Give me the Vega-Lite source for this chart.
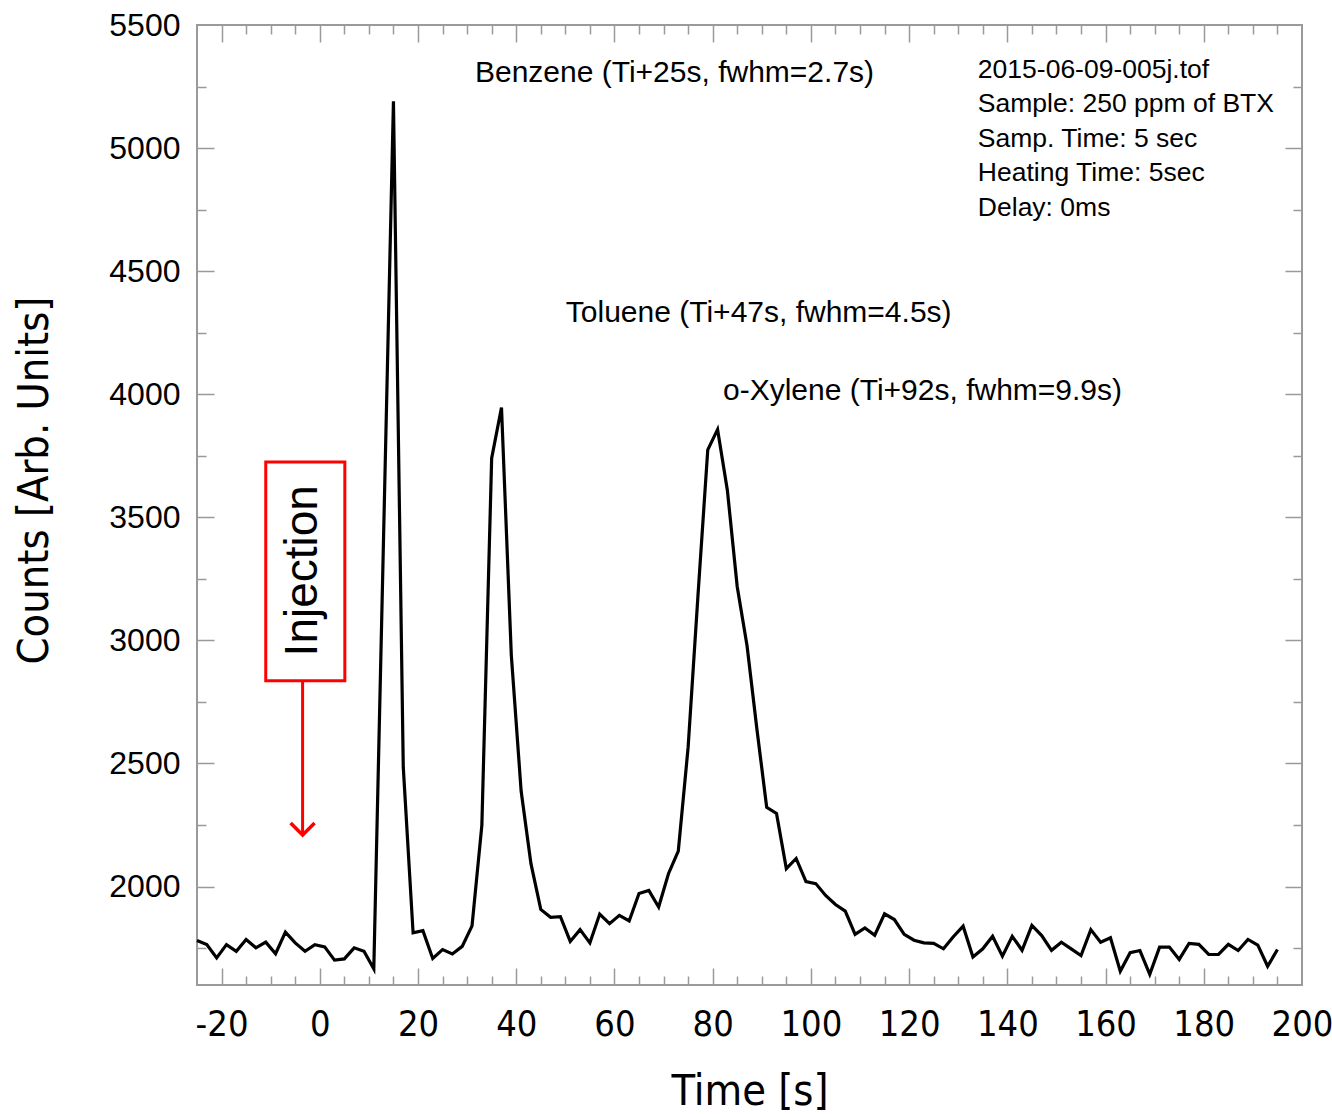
{
  "$schema": "https://vega.github.io/schema/vega-lite/v6.json",
  "width": 1105,
  "height": 960,
  "autosize": {"type": "none"},
  "padding": {"left": 197, "top": 25, "right": 30, "bottom": 129},
  "background": "white",
  "config": {
    "view": {"stroke": "#9a9a9a", "strokeWidth": 2},
    "axis": {"domain": false, "grid": false, "tickColor": "#9a9a9a", "tickWidth": 1.5, "labelColor": "black", "titleColor": "black", "titleFontWeight": "normal", "labelOverlap": false, "labelFlush": false, "labelBound": false}
  },
  "datasets": {
    "trace": [
      {"t": -25, "v": 1781}, {"t": -23, "v": 1764}, {"t": -21, "v": 1710}, {"t": -19, "v": 1764}, {"t": -17, "v": 1737},
      {"t": -15, "v": 1785}, {"t": -13, "v": 1751}, {"t": -11, "v": 1774}, {"t": -9, "v": 1727}, {"t": -7, "v": 1815},
      {"t": -5, "v": 1771}, {"t": -3, "v": 1737}, {"t": -1, "v": 1764}, {"t": 1, "v": 1755}, {"t": 3, "v": 1701},
      {"t": 5, "v": 1706}, {"t": 7, "v": 1751}, {"t": 9, "v": 1737}, {"t": 11, "v": 1666}, {"t": 13, "v": 3430},
      {"t": 15, "v": 5190}, {"t": 17, "v": 2485}, {"t": 19, "v": 1812}, {"t": 21, "v": 1821}, {"t": 23, "v": 1708},
      {"t": 25, "v": 1744}, {"t": 27, "v": 1726}, {"t": 29, "v": 1757}, {"t": 31, "v": 1840}, {"t": 33, "v": 2248},
      {"t": 35, "v": 3740}, {"t": 37, "v": 3946}, {"t": 39, "v": 2940}, {"t": 41, "v": 2388}, {"t": 43, "v": 2093},
      {"t": 45, "v": 1907}, {"t": 47, "v": 1875}, {"t": 49, "v": 1878}, {"t": 51, "v": 1777}, {"t": 53, "v": 1825},
      {"t": 55, "v": 1771}, {"t": 57, "v": 1888}, {"t": 59, "v": 1849}, {"t": 61, "v": 1883}, {"t": 63, "v": 1860},
      {"t": 65, "v": 1972}, {"t": 67, "v": 1984}, {"t": 69, "v": 1917}, {"t": 71, "v": 2052}, {"t": 73, "v": 2144},
      {"t": 75, "v": 2565}, {"t": 77, "v": 3180}, {"t": 79, "v": 3774}, {"t": 81, "v": 3857}, {"t": 83, "v": 3609},
      {"t": 85, "v": 3218}, {"t": 87, "v": 2978}, {"t": 89, "v": 2641}, {"t": 91, "v": 2322}, {"t": 93, "v": 2297},
      {"t": 95, "v": 2073}, {"t": 97, "v": 2114}, {"t": 99, "v": 2020}, {"t": 101, "v": 2012}, {"t": 103, "v": 1964},
      {"t": 105, "v": 1927}, {"t": 107, "v": 1900}, {"t": 109, "v": 1806}, {"t": 111, "v": 1832}, {"t": 113, "v": 1802},
      {"t": 115, "v": 1889}, {"t": 117, "v": 1866}, {"t": 119, "v": 1806}, {"t": 121, "v": 1782}, {"t": 123, "v": 1771},
      {"t": 125, "v": 1769}, {"t": 127, "v": 1747}, {"t": 129, "v": 1796}, {"t": 131, "v": 1839}, {"t": 133, "v": 1714},
      {"t": 135, "v": 1747}, {"t": 137, "v": 1798}, {"t": 139, "v": 1717}, {"t": 141, "v": 1798}, {"t": 143, "v": 1741},
      {"t": 145, "v": 1842}, {"t": 147, "v": 1801}, {"t": 149, "v": 1741}, {"t": 151, "v": 1774}, {"t": 153, "v": 1747},
      {"t": 155, "v": 1720}, {"t": 157, "v": 1825}, {"t": 159, "v": 1774}, {"t": 161, "v": 1792}, {"t": 163, "v": 1656},
      {"t": 165, "v": 1731}, {"t": 167, "v": 1740}, {"t": 169, "v": 1643}, {"t": 171, "v": 1754}, {"t": 173, "v": 1754},
      {"t": 175, "v": 1704}, {"t": 177, "v": 1769}, {"t": 179, "v": 1765}, {"t": 181, "v": 1724}, {"t": 183, "v": 1724},
      {"t": 185, "v": 1765}, {"t": 187, "v": 1740}, {"t": 189, "v": 1785}, {"t": 191, "v": 1762}, {"t": 193, "v": 1676},
      {"t": 195, "v": 1744}
    ],
    "peaks": [
      {"x": 31.6, "y": 5305, "label": "Benzene (Ti+25s, fwhm=2.7s)"},
      {"x": 50.1, "y": 4330, "label": "Toluene (Ti+47s, fwhm=4.5s)"},
      {"x": 82.1, "y": 4014, "label": "o-Xylene (Ti+92s, fwhm=9.9s)"}
    ],
    "info": [
      {"x": 134, "y": 5317, "label": "2015-06-09-005j.tof"},
      {"x": 134, "y": 5179, "label": "Sample: 250 ppm of BTX"},
      {"x": 134, "y": 5037, "label": "Samp. Time: 5 sec"},
      {"x": 134, "y": 4899, "label": "Heating Time: 5sec"},
      {"x": 134, "y": 4757, "label": "Delay: 0ms"}
    ],
    "injbox": [{"x1": -11, "x2": 5.1, "y1": 3725, "y2": 2836, "xc": -3.5, "yc": 3283, "label": "Injection"}],
    "arrow": [{"x": -3.5, "y1": 2836, "y2": 2213}],
    "tip": [{"x": -3.5, "y": 2209}]
  },
  "layer": [
    {
      "data": {"name": "trace"},
      "mark": {"type": "line", "opacity": 0},
      "encoding": {
        "x": {"field": "t", "type": "quantitative", "scale": {"domain": [-25, 200], "nice": false, "zero": false},
          "axis": {"orient": "bottom", "values": [-20, 0, 20, 40, 60, 80, 100, 120, 140, 160, 180, 200], "labelExpr": "'' + datum.value", "ticks": false, "labelFont": "DejaVu Sans Condensed, Liberation Sans, sans-serif", "labelFontSize": 36, "labelPadding": 22, "title": "Time [s]", "titleFont": "DejaVu Sans Condensed, Liberation Sans, sans-serif", "titleFontSize": 43, "titlePadding": 28}},
        "y": {"field": "v", "type": "quantitative", "scale": {"domain": [1600, 5500], "nice": false, "zero": false},
          "axis": {"orient": "left", "values": [2000, 2500, 3000, 3500, 4000, 4500, 5000, 5500], "labelExpr": "'' + datum.value", "ticks": false, "labelFont": "Liberation Sans, Arial, sans-serif", "labelFontSize": 32, "labelPadding": 17, "title": "Counts [Arb. Units]", "titleFont": "DejaVu Sans Condensed, Liberation Sans, sans-serif", "titleFontSize": 43, "titlePadding": 52, "titleY": 455}}
      }
    },
    {
      "data": {"name": "trace"},
      "mark": {"type": "line", "opacity": 0},
      "encoding": {
        "x": {"field": "t", "type": "quantitative", "scale": {"domain": [-25, 200], "nice": false, "zero": false},
          "axis": {"orient": "bottom", "values": [-20, 0, 20, 40, 60, 80, 100, 120, 140, 160, 180], "labels": false, "title": null, "tickSize": -17}},
        "y": {"field": "v", "type": "quantitative", "scale": {"domain": [1600, 5500], "nice": false, "zero": false},
          "axis": {"orient": "left", "values": [2000, 2500, 3000, 3500, 4000, 4500, 5000], "labels": false, "title": null, "tickSize": -17}}
      }
    },
    {
      "data": {"name": "trace"},
      "mark": {"type": "line", "opacity": 0},
      "encoding": {
        "x": {"field": "t", "type": "quantitative", "scale": {"domain": [-25, 200], "nice": false, "zero": false},
          "axis": {"orient": "bottom", "values": [-15, -10, -5, 5, 10, 15, 25, 30, 35, 45, 50, 55, 65, 70, 75, 85, 90, 95, 105, 110, 115, 125, 130, 135, 145, 150, 155, 165, 170, 175, 185, 190, 195], "labels": false, "title": null, "tickSize": -9}},
        "y": {"field": "v", "type": "quantitative", "scale": {"domain": [1600, 5500], "nice": false, "zero": false},
          "axis": {"orient": "left", "values": [1750, 2250, 2750, 3250, 3750, 4250, 4750, 5250], "labels": false, "title": null, "tickSize": -9}}
      }
    },
    {
      "data": {"name": "trace"},
      "mark": {"type": "line", "opacity": 0},
      "encoding": {
        "x": {"field": "t", "type": "quantitative", "scale": {"domain": [-25, 200], "nice": false, "zero": false},
          "axis": {"orient": "top", "values": [-20, 0, 20, 40, 60, 80, 100, 120, 140, 160, 180], "labels": false, "title": null, "tickSize": -17}},
        "y": {"field": "v", "type": "quantitative", "scale": {"domain": [1600, 5500], "nice": false, "zero": false},
          "axis": {"orient": "right", "values": [2000, 2500, 3000, 3500, 4000, 4500, 5000], "labels": false, "title": null, "tickSize": -17}}
      }
    },
    {
      "data": {"name": "trace"},
      "mark": {"type": "line", "opacity": 0},
      "encoding": {
        "x": {"field": "t", "type": "quantitative", "scale": {"domain": [-25, 200], "nice": false, "zero": false},
          "axis": {"orient": "top", "values": [-15, -10, -5, 5, 10, 15, 25, 30, 35, 45, 50, 55, 65, 70, 75, 85, 90, 95, 105, 110, 115, 125, 130, 135, 145, 150, 155, 165, 170, 175, 185, 190, 195], "labels": false, "title": null, "tickSize": -9}},
        "y": {"field": "v", "type": "quantitative", "scale": {"domain": [1600, 5500], "nice": false, "zero": false},
          "axis": {"orient": "right", "values": [1750, 2250, 2750, 3250, 3750, 4250, 4750, 5250], "labels": false, "title": null, "tickSize": -9}}
      }
    },
    {
      "data": {"name": "injbox"},
      "mark": {"type": "rect", "fill": "white", "stroke": "#ff0000", "strokeWidth": 3},
      "encoding": {
        "x": {"field": "x1", "type": "quantitative", "axis": null},
        "x2": {"field": "x2"},
        "y": {"field": "y1", "type": "quantitative", "axis": null},
        "y2": {"field": "y2"}
      }
    },
    {
      "data": {"name": "injbox"},
      "mark": {"type": "text", "angle": 270, "align": "center", "baseline": "middle", "font": "Liberation Sans, Arial, sans-serif", "fontSize": 46, "color": "black"},
      "encoding": {
        "x": {"field": "xc", "type": "quantitative", "axis": null},
        "y": {"field": "yc", "type": "quantitative", "axis": null},
        "text": {"field": "label"}
      }
    },
    {
      "data": {"name": "arrow"},
      "mark": {"type": "rule", "color": "#ff0000", "strokeWidth": 3},
      "encoding": {
        "x": {"field": "x", "type": "quantitative", "axis": null},
        "y": {"field": "y1", "type": "quantitative", "axis": null},
        "y2": {"field": "y2"}
      }
    },
    {
      "data": {"name": "tip"},
      "mark": {"type": "point", "shape": "M-1,-1L0,0L1,-1", "size": 576, "filled": false, "stroke": "#ff0000", "strokeWidth": 3.5, "opacity": 1},
      "encoding": {
        "x": {"field": "x", "type": "quantitative", "axis": null},
        "y": {"field": "y", "type": "quantitative", "axis": null}
      }
    },
    {
      "data": {"name": "peaks"},
      "mark": {"type": "text", "align": "left", "baseline": "middle", "font": "Liberation Sans, Arial, sans-serif", "fontSize": 30, "color": "black"},
      "encoding": {
        "x": {"field": "x", "type": "quantitative", "axis": null},
        "y": {"field": "y", "type": "quantitative", "axis": null},
        "text": {"field": "label"}
      }
    },
    {
      "data": {"name": "info"},
      "mark": {"type": "text", "align": "left", "baseline": "middle", "font": "Liberation Sans, Arial, sans-serif", "fontSize": 26.5, "color": "black"},
      "encoding": {
        "x": {"field": "x", "type": "quantitative", "axis": null},
        "y": {"field": "y", "type": "quantitative", "axis": null},
        "text": {"field": "label"}
      }
    },
    {
      "data": {"name": "trace"},
      "mark": {"type": "line", "color": "black", "strokeWidth": 3.2},
      "encoding": {
        "x": {"field": "t", "type": "quantitative", "axis": null},
        "y": {"field": "v", "type": "quantitative", "axis": null}
      }
    }
  ],
  "resolve": {"axis": {"x": "independent", "y": "independent"}}
}
